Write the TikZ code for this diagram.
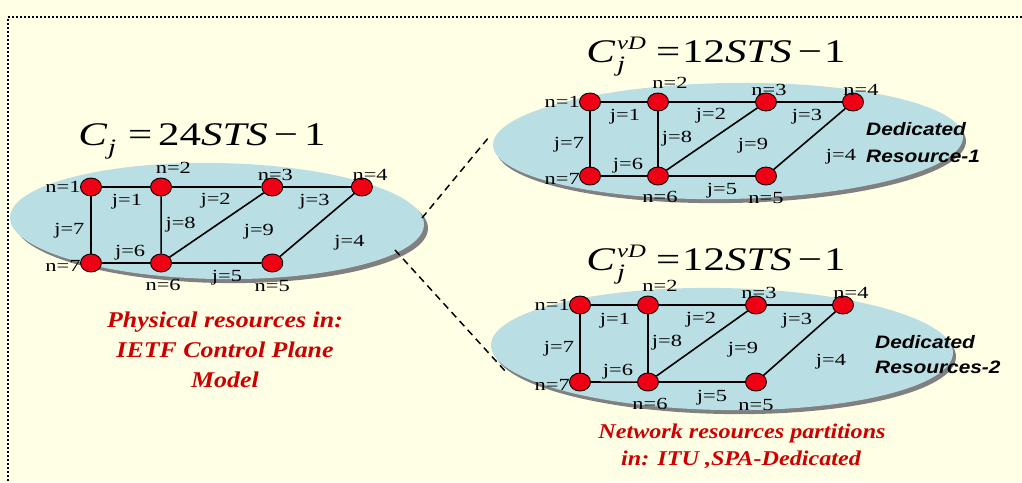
\documentclass[tikz,border=0pt]{standalone}
\usepackage{fontspec}
\setmainfont{Liberation Serif}
\newfontfamily\lblfont[FakeStretch=1.32]{Liberation Serif}
\newfontfamily\capfont[FakeStretch=1.15]{Liberation Serif}
\newfontfamily\dedfont[FakeStretch=1.16]{Liberation Sans}
\newfontfamily\fmlfont[FakeStretch=1.3]{Liberation Serif}
\usetikzlibrary{shapes.geometric}
\definecolor{bgyellow}{RGB}{255,255,230}
\definecolor{ellblue}{RGB}{185,222,227}
\definecolor{shadowgray}{RGB}{128,128,128}
\definecolor{nodered}{RGB}{240,0,20}
\definecolor{capred}{RGB}{204,0,0}
\tikzset{
  vtx/.style={ellipse, draw=black, line width=0.9pt, fill=nodered, minimum width=21pt, minimum height=18pt, inner sep=0pt},
  edge/.style={draw=black, line width=1.6pt},
  lbl/.style={inner sep=0pt, font=\lblfont\fontsize{17}{17}\selectfont, text height=11.5pt, text depth=0pt},
  capt/.style={inner sep=0pt, text=capred, font=\capfont\bfseries\itshape\fontsize{22.5}{22.5}\selectfont},
  captsmall/.style={inner sep=0pt, text=capred, font=\capfont\bfseries\itshape\fontsize{21}{21}\selectfont},
  ded/.style={inner sep=0pt, anchor=base west, font=\dedfont\bfseries\itshape\fontsize{18}{18}\selectfont},
  fml/.style={inner sep=0pt, anchor=base, font=\fmlfont\fontsize{33}{33}\selectfont},
  dotborder/.style={line width=1.6pt, dash pattern=on 1.6pt off 2.4pt},
  link/.style={line width=1.5pt, dash pattern=on 7pt off 5pt}
}
\newcommand\netgraph[1]{%
  \node[vtx] (#1-1) at (0,0) {};
  \node[vtx] (#1-2) at (68,0) {};
  \node[vtx] (#1-3) at (176,0) {};
  \node[vtx] (#1-4) at (263,0) {};
  \node[vtx] (#1-7) at (0,75) {};
  \node[vtx] (#1-6) at (68,75) {};
  \node[vtx] (#1-5) at (176,75) {};
  \draw[edge] (#1-1) -- (#1-2);
  \draw[edge] (#1-2) -- (#1-3);
  \draw[edge] (#1-3) -- (#1-4);
  \draw[edge] (#1-4) -- (#1-5);
  \draw[edge] (#1-5) -- (#1-6);
  \draw[edge] (#1-6) -- (#1-7);
  \draw[edge] (#1-7) -- (#1-1);
  \draw[edge] (#1-2) -- (#1-6);
  \draw[edge] (#1-6) -- (#1-3);
  \node[lbl, anchor=east] (#1-l1) at (-10,0) {n=1};
  \node[lbl] (#1-l2) at (80,-19) {n=2};
  \node[lbl] (#1-l3) at (179,-12) {n=3};
  \node[lbl] (#1-l4) at (271,-12) {n=4};
  \node[lbl, anchor=east] (#1-l7) at (-10,78) {n=7};
  \node[lbl] (#1-l6) at (70,96) {n=6};
  \node[lbl] (#1-l5) at (176,97) {n=5};
  \node[lbl] (#1-j1) at (35,13) {j=1};
  \node[lbl] (#1-j2) at (121,12) {j=2};
  \node[lbl] (#1-j3) at (217,13) {j=3};
  \node[lbl] (#1-j7) at (-21,41) {j=7};
  \node[lbl] (#1-j8) at (87,35) {j=8};
  \node[lbl] (#1-j9) at (163,42) {j=9};
  \node[lbl] (#1-j4) at (251,53) {j=4};
  \node[lbl] (#1-j6) at (38,63) {j=6};
  \node[lbl] (#1-j5) at (132,88) {j=5};
}
\newcommand\vdformula{\itshape C\kern2pt\rlap{\raisebox{13pt}{\fontsize{19}{19}\selectfont vD}}\raisebox{-9pt}{\fontsize{22}{22}\selectfont j}\kern31pt\upshape =\kern2pt12\itshape STS\kern6pt\upshape −\kern2pt1}
\begin{document}
\begin{tikzpicture}[x=1pt,y=-1pt]
\useasboundingbox (0,0) rectangle (1022,482);
\fill[bgyellow] (0,0) rectangle (1022,482);
\draw[dotborder] (1022,17) -- (8,17) -- (8,482);

% ellipses with shadows
\fill[shadowgray, rotate around={-1:(221,225)}] (221,225) ellipse [x radius=207, y radius=58];
\fill[ellblue, rotate around={-1:(217,221)}] (217,221) ellipse [x radius=207, y radius=58];
\fill[shadowgray, rotate around={1:(731,145)}] (731,145) ellipse [x radius=235, y radius=58];
\fill[ellblue, rotate around={1:(728,141)}] (728,141) ellipse [x radius=235, y radius=58];
\fill[shadowgray, rotate around={-1:(725,353)}] (725,353) ellipse [x radius=231, y radius=61];
\fill[ellblue, rotate around={-1:(722,349)}] (722,349) ellipse [x radius=231, y radius=61];

% dashed links
\coordinate (dA) at (422,218);
\coordinate (dB) at (489,137);
\coordinate (dC) at (395,250);
\coordinate (dD) at (506,372);
\draw[link] (dA) -- (dB);
\draw[link] (dC) -- (dD);

% graphs
\begin{scope}[shift={(91,187)}, xscale=1.03, yscale=1.013]
\netgraph{L}
\end{scope}
\begin{scope}[shift={(590,102)}, yscale=0.987]
\netgraph{T}
\end{scope}
\begin{scope}[shift={(580,305)}, yscale=1.027]
\netgraph{B}
\end{scope}

% formulas
\node[fml] (fL) at (202,145) {\itshape C\kern1pt\raisebox{-9pt}{\fontsize{22}{22}\selectfont j}\kern12pt\upshape =\kern6pt24\itshape STS\kern6pt\upshape −\kern6pt1};
\node[fml] (fT) at (716,62) {\vdformula};
\node[fml] (fB) at (716,270) {\vdformula};

% dedicated labels
\node[ded] (dd1) at (866,135) {Dedicated};
\node[ded] (dr1) at (866,162) {Resource-1};
\node[ded] (dd2) at (875,348) {Dedicated};
\node[ded] (dr2) at (875,373) {Resources-2};

% captions
\node[capt, anchor=base] (c1) at (225,327) {Physical resources in:};
\node[capt, anchor=base] (c2) at (225,357) {IETF Control Plane};
\node[capt, anchor=base] (c3) at (225,387) {Model};
\node[captsmall, anchor=base] (c4) at (742,438) {Network resources partitions};
\node[captsmall, anchor=base] (c5) at (741,465) {in: ITU ,SPA-Dedicated};
\end{tikzpicture}
\end{document}
